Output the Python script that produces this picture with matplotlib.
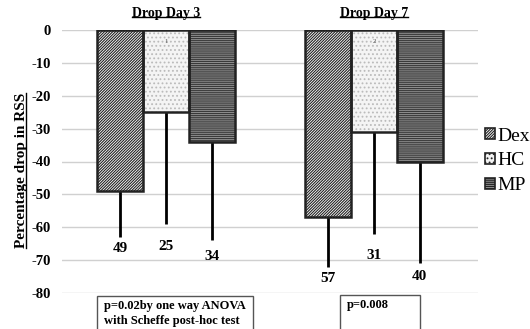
import matplotlib.pyplot as plt
import numpy as np

plt.rcParams['font.family'] = ['Liberation Serif', 'DejaVu Serif']
plt.rcParams['hatch.linewidth'] = 0.8

groups = ['Drop Day 3', 'Drop Day 7']
series = ['Dex', 'HC', 'MP']
values = {
    'Dex': [-49, -57],
    'HC': [-25, -31],
    'MP': [-34, -40],
}
# lower end of the error bar
err_low = {
    'Dex': [14, 15],
    'HC': [34, 31],
    'MP': [30, 31],
}
# label text and where it sits
labels = {
    'Dex': ['49', '57'],
    'HC': ['25', '31'],
    'MP': ['34', '40'],
}
label_y = {
    'Dex': [-66.5, -75.5],
    'HC': [-66, -68.5],
    'MP': [-69, -75],
}
marks = ['1', '2']
notes = ['p=0.02by one way ANOVA\nwith Scheffe post-hoc test', 'p=0.008']

styles = {
    'Dex': dict(facecolor='white', hatch='/' * 12, edgecolor='#222222'),
    'HC': dict(facecolor='#f4f4f4', hatch='....', edgecolor='#bbbbbb'),
    'MP': dict(facecolor='#8e8e8e', hatch='-' * 8, edgecolor='#3a3a3a'),
}

fig = plt.figure(figsize=(5.3, 3.29), dpi=100)
ax = fig.add_axes([62 / 530, 1 - 293 / 329, 416 / 530, 263 / 329])

x = np.arange(len(groups))
w = 0.22
for i, s in enumerate(series):
    xs = x + (i - 1) * w
    ax.bar(xs, values[s], width=w, linewidth=0, zorder=2, **styles[s], label=s)
    # outline drawn separately so hatch colour is independent
    ax.bar(xs, values[s], width=w, facecolor='none', edgecolor='#222222', linewidth=1.8, zorder=3)
    ax.errorbar(xs, values[s], yerr=[err_low[s], [0, 0]], fmt='none', ecolor='black',
                elinewidth=2, capsize=0, zorder=1)
    for j in range(len(groups)):
        ax.text(xs[j], label_y[s][j], labels[s][j], ha='center', va='center',
                fontsize=11, fontweight='bold')

for j in range(len(groups)):
    ax.text(x[j], -3.5, marks[j], ha='center', va='center', fontsize=5, color='#555555', zorder=4)

ax.set_xlim(-0.5, 1.5)
ax.set_ylim(-80, 0)
ax.set_yticks(np.arange(-80, 1, 10))
ax.set_yticklabels([str(v) for v in range(-80, 1, 10)], fontweight='bold', fontsize=10.5)
ax.set_xticks([])
ax.tick_params(axis='y', length=0, pad=8)
ax.yaxis.grid(True, color='#d0d0d0', linewidth=1, zorder=0)
ax.set_axisbelow(True)
for sp in ax.spines.values():
    sp.set_visible(False)

ax.set_ylabel('Percentage drop in RSS', fontsize=11, fontweight='bold')
ax.yaxis.set_label_coords(-0.082, 0.465)

titles = []
for j, g in enumerate(groups):
    t = fig.text((62 + 104 + 208 * j) / 530, 1 - 13 / 329, g, ha='center', va='center',
                 fontsize=10, fontweight='bold')
    titles.append(t)

# note boxes
note_pos = [(97, 296, 156), (340, 295, 80)]
for (bx, by, bw), txt in zip(note_pos, notes):
    fig.patches.append(plt.Rectangle((bx / 530, 1 - 340 / 329), bw / 530, (340 - by) / 329,
                                     transform=fig.transFigure, facecolor='white',
                                     edgecolor='#555555', linewidth=1, figure=fig))
    fig.text((bx + 7) / 530, 1 - (by + 4) / 329, txt, ha='left', va='top', fontsize=9,
             fontweight='bold', linespacing=1.3)

leg = fig.legend(loc='center left', bbox_to_anchor=(485 / 530, 1 - 161 / 329), frameon=False,
                 fontsize=14, handlelength=0.5, handleheight=0.5, handletextpad=0.15,
                 labelspacing=0.4, borderaxespad=0, borderpad=0)
for h in leg.legend_handles:
    h.set_edgecolor('#222222')
    h.set_linewidth(1.2)

# underline titles and y label
fig.canvas.draw()
r = fig.canvas.get_renderer()
inv = fig.transFigure.inverted()
for t in titles:
    bb = t.get_window_extent(r)
    (x0, y0), (x1, _) = inv.transform([[bb.x0, bb.y0], [bb.x1, bb.y1]])
    fig.add_artist(plt.Line2D([x0, x1], [y0 + 0.008, y0 + 0.008], color='black', linewidth=1,
                              transform=fig.transFigure))
yl = ax.yaxis.label
bb = yl.get_window_extent(r)
(x0, y0), (x1, y1) = inv.transform([[bb.x0, bb.y0], [bb.x1, bb.y1]])
fig.add_artist(plt.Line2D([x1 - 0.003, x1 - 0.003], [y0, y1], color='black', linewidth=1,
                          transform=fig.transFigure))

fig.savefig('out.png', dpi=100)
